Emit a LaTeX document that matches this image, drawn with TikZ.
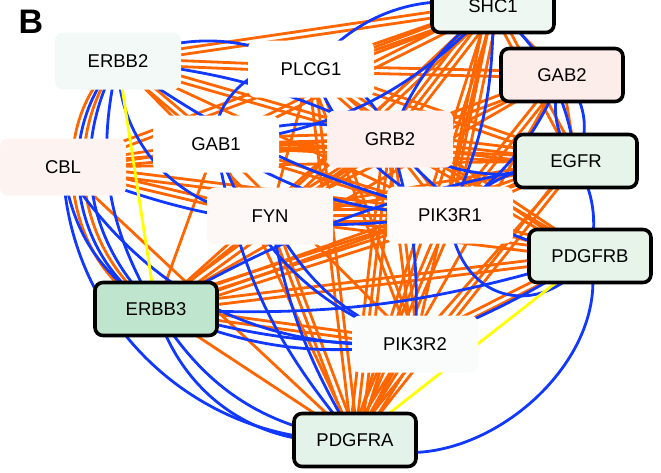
\documentclass[tikz,border=0pt]{standalone}
\usepackage{fontspec}
\setmainfont{Liberation Sans}
\usetikzlibrary{calc}
\definecolor{eor}{RGB}{255,102,0}
\definecolor{ebl}{RGB}{16,56,255}
\definecolor{eyl}{RGB}{255,255,0}
\definecolor{fshc}{HTML}{EEF7F2}
\definecolor{fgabb}{HTML}{FCECEA}
\definecolor{fegfr}{HTML}{E6F4EA}
\definecolor{fpdgf}{HTML}{E4F3E9}
\definecolor{ferbbc}{HTML}{C0E5CF}
\definecolor{ferbbb}{HTML}{F3F9F6}
\definecolor{fcbl}{HTML}{FDF4F2}
\definecolor{fgrb}{HTML}{FDF0EF}
\definecolor{ffyn}{HTML}{FDF7F5}
\definecolor{fpika}{HTML}{FEFBFA}
\definecolor{fpikb}{HTML}{F9FCFA}
\pgfdeclarelayer{bg}
\pgfsetlayers{bg,main}
\begin{document}
\begin{tikzpicture}[x=1pt,y=-1pt,
  gene/.style={rounded corners=8pt, minimum width=126pt, minimum height=57pt, inner sep=0pt, font=\fontsize{18.5}{20}\selectfont},
  hub/.style={gene, draw=black, line width=3.6pt, minimum width=122pt, minimum height=53pt},
  oe/.style={draw=eor, line width=2.8pt},
  be/.style={draw=ebl, line width=2.8pt},
  ye/.style={draw=eyl, line width=2.8pt}]
\useasboundingbox (0,0) rectangle (661,472);
\node[font=\fontsize{34}{36}\selectfont\bfseries] (lab) at (31,22) {B};
% nodes
\node[hub, fill=fshc] (shc) at (493,6) {SHC1};
\node[hub, fill=fgabb] (gab2) at (562,75) {GAB2};
\node[hub, fill=fegfr] (egfr) at (576,161) {EGFR};
\node[hub, fill=fegfr] (pdgfrb) at (590,256) {PDGFRB};
\node[hub, fill=fpdgf] (pdgfra) at (355,440) {PDGFRA};
\node[hub, fill=ferbbc] (erbb3) at (156,309) {ERBB3};
\node[gene, fill=ferbbb] (erbb2) at (118,61) {ERBB2};
\node[gene, fill=white] (plcg) at (311,69) {PLCG1};
\node[gene, fill=white] (gab1) at (216,144) {GAB1};
\node[gene, fill=fcbl] (cbl) at (63,167) {CBL};
\node[gene, fill=fgrb] (grb2) at (390,139) {GRB2};
\node[gene, fill=ffyn] (fyn) at (270,216) {FYN};
\node[gene, fill=fpika] (pik1) at (450,215) {PIK3R1};
\node[gene, fill=fpikb] (pik2) at (415,344) {PIK3R2};
\begin{pgfonlayer}{bg}
% orange straight edges (multi)
\foreach \a/\b/\n in {shc/erbb2/2, shc/plcg/2, shc/gab1/2, shc/cbl/2, shc/grb2/3, shc/fyn/2, shc/pik1/3, shc/pdgfra/2, shc/erbb3/1, shc/pik2/1,
  erbb2/plcg/2, erbb2/gab1/2, erbb2/grb2/2, erbb2/fyn/1, erbb2/pik1/1,
  cbl/gab1/2, cbl/grb2/2, cbl/pik1/2, cbl/egfr/1, cbl/fyn/2, cbl/pdgfra/1,
  gab1/grb2/3, gab1/pik1/2, gab1/egfr/2, gab1/pdgfra/1, gab1/erbb3/1,
  plcg/egfr/2, plcg/pdgfrb/2, plcg/gab2/2, plcg/grb2/2, plcg/pdgfra/2, plcg/fyn/1,
  grb2/egfr/3, grb2/pik1/2, grb2/gab2/2, grb2/pdgfra/3, grb2/pdgfrb/2, grb2/erbb3/2, grb2/fyn/2,
  fyn/pik1/3, fyn/egfr/2, fyn/pdgfrb/2, fyn/pdgfra/2, fyn/gab2/1, fyn/erbb3/1,
  pik1/egfr/2, pik1/pdgfra/3, pik1/pdgfrb/2, pik1/erbb3/3, pik1/gab2/2,
  pik2/pdgfra/3, pik2/plcg/2, pik2/gab1/1, pik2/erbb3/2, pik2/pdgfrb/2, pik2/grb2/2, pik2/egfr/1,
  erbb3/pdgfrb/2, erbb3/egfr/2, erbb3/gab2/1, erbb3/pdgfra/1,
  pdgfra/gab2/1, pdgfra/egfr/2, egfr/gab2/1, egfr/shc/2, gab2/shc/1}{
  \foreach \k in {1,...,\n}{
    \pgfmathsetmacro\off{(\k-(\n+1)/2)*6}
    \draw[oe] ($(\a.center)!\off pt!90:(\b.center)$) -- ($(\b.center)!\off pt!-90:(\a.center)$);
  }
}
\draw[oe] (erbb2.center) to[bend right=60] (erbb3.center);
\draw[oe] (erbb2.center) to[bend right=45] (erbb3.center);
% blue curved edges
\foreach \a/\b/\ang in {erbb2/erbb3/-52, erbb2/erbb3/-38, erbb2/erbb3/-22,
  cbl/pdgfra/-45, erbb3/pdgfra/-40, erbb3/pdgfra/-25, cbl/pik2/-30, gab1/pik2/-25, erbb3/pik2/-15, erbb3/pik2/-8,
  pdgfrb/pdgfra/65, gab2/egfr/35, gab2/egfr/-30, shc/egfr/20, shc/pik1/12, shc/grb2/-15, shc/gab1/20,
  plcg/gab1/-60, erbb2/plcg/25, erbb2/grb2/10, erbb2/pik1/-10, gab1/grb2/20, gab1/pik1/-15,
  fyn/pdgfra/-10, cbl/pik1/-15, erbb3/egfr/10, erbb3/pdgfrb/-10, grb2/pdgfrb/-20, egfr/pdgfrb/20,
  gab2/pik1/15, egfr/grb2/25, gab1/pdgfra/-15, pdgfrb/pik2/5, cbl/erbb3/-25, erbb2/fyn/-45,
  plcg/pik1/-20, plcg/grb2/30, shc/plcg/-30, grb2/pik2/10, fyn/pik2/-20, egfr/pik1/-20}{
  \draw[be] (\a.center) to[bend left=\ang] (\b.center);
}
\draw[be] (pdgfrb.center) to[bend left=70, looseness=1.5] (pik1.center);
% yellow edges
\draw[ye] (erbb2.center) -- (erbb3.center);
\draw[ye] (pdgfrb.center) -- (pdgfra.center);
\end{pgfonlayer}
\end{tikzpicture}
\end{document}
